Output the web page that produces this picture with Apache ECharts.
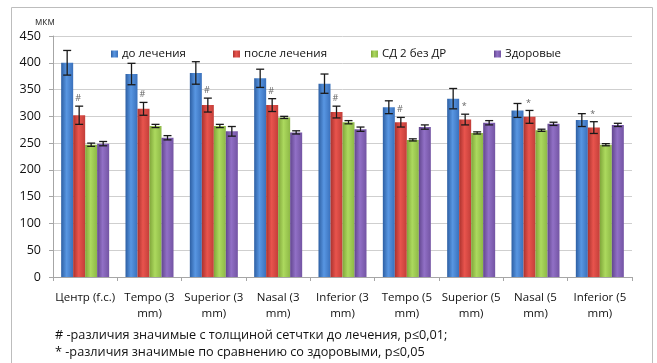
<!DOCTYPE html>
<html>
<head>
<meta charset="utf-8">
<script src="https://cdn.jsdelivr.net/npm/echarts@6/dist/echarts.min.js"></script>
<style>
  html, body { margin: 0; padding: 0; background: #fff; }
  #chart { width: 657px; height: 363px; }
</style>
</head>
<body>
<div id="chart"></div>
<script>
// Retinal thickness by zone (мкм), mean ± error
const categories = ['Центр (f.c.)', 'Tempo (3 mm)', 'Superior (3 mm)', 'Nasal (3 mm)', 'Inferior (3 mm)',
                    'Tempo (5 mm)', 'Superior (5 mm)', 'Nasal (5 mm)', 'Inferior (5 mm)'];
const seriesNames = ['до лечения', 'после лечения', 'СД 2 без ДР', 'Здоровые'];

const beforeTreatment = [400, 379, 381, 371, 361, 317, 333, 311, 293];
const beforeErr       = [23, 20, 21, 17, 18, 12, 19, 13, 12];
const afterTreatment  = [302, 314, 321, 321, 308, 289, 294, 299, 279];
const afterErr        = [17, 12, 13, 12, 11, 9, 10, 12, 11];
const diabetesNoDR    = [247, 282, 282, 298, 289, 256, 269, 274, 247];
const diabetesErr     = [3, 3, 3, 2, 3, 2, 2, 2, 2];
const healthy         = [249, 260, 272, 270, 276, 280, 288, 286, 284];
const healthyErr      = [4, 4, 9, 3, 4, 4, 4, 3, 3];

// significance marks over the "после лечения" bars
const afterMarks = ['#', '#', '#', '#', '#', '#', '*', '*', '*'];

const yTicks = [0, 50, 100, 150, 200, 250, 300, 350, 400, 450];

const footnotes = [
  '# -различия значимые с толщиной сетчтки до лечения, p≤0,01;',
  '* -различия значимые по сравнению со здоровыми, p≤0,05'
];

const values = [beforeTreatment, afterTreatment, diabetesNoDR, healthy];
const errors = [beforeErr, afterErr, diabetesErr, healthyErr];
const baseColors = [
  ['#2d5fa3', '#5896e2', '#3a71bc'],
  ['#ab322e', '#e8544d', '#c33e39'],
  ['#80a63a', '#acd95e', '#8db846'],
  ['#62468e', '#9170c6', '#7354a3']
];

const FONT = 'Open Sans';
const BAR_W = 12;

function barGradient(c) {
  return new echarts.graphic.LinearGradient(0, 0, 1, 0, [
    { offset: 0, color: c[0] },
    { offset: 0.45, color: c[1] },
    { offset: 1, color: c[2] }
  ]);
}

const chart = echarts.init(document.getElementById('chart'), null, { renderer: 'canvas' });

const barSeries = seriesNames.map((name, s) => ({
  name: name,
  type: 'bar',
  data: values[s],
  barWidth: BAR_W,
  barGap: '0%',
  itemStyle: { color: barGradient(baseColors[s]) },
  z: 2
}));

const errorSeries = seriesNames.map((name, s) => ({
  type: 'custom',
  name: name + ' err',
  data: values[s].map((v, i) => [i, v, errors[s][i]]),
  z: 5,
  silent: true,
  renderItem: function (params, api) {
    const i = api.value(0);
    const v = api.value(1);
    const e = api.value(2);
    const dx = (s - 1.5) * BAR_W;
    const top = api.coord([i, v + e]);
    const bot = api.coord([i, v - e]);
    const x = top[0] + dx;
    const cap = 4;
    const st = { stroke: '#1a1a1a', lineWidth: 1.3 };
    const children = [
      { type: 'line', shape: { x1: x, y1: top[1], x2: x, y2: bot[1] }, style: st },
      { type: 'line', shape: { x1: x - cap, y1: top[1], x2: x + cap, y2: top[1] }, style: st },
      { type: 'line', shape: { x1: x - cap, y1: bot[1], x2: x + cap, y2: bot[1] }, style: st }
    ];
    if (s === 1) {
      children.push({
        type: 'text',
        style: {
          x: x - 1, y: top[1] - 3,
          text: afterMarks[i],
          fill: '#666',
          font: '9px ' + FONT,
          align: 'center',
          verticalAlign: 'bottom'
        }
      });
    }
    return { type: 'group', children: children };
  }
}));

const legendLefts = [106, 228, 366, 489];

chart.setOption({
  animation: false,
  textStyle: { fontFamily: FONT },
  grid: { left: 53, right: 25, top: 36, bottom: 86, containLabel: false },
  legend: seriesNames.map((n, k) => ({
    data: [n],
    left: legendLefts[k],
    top: 43,
    icon: 'rect',
    itemWidth: 7,
    itemHeight: 7,
    itemGap: 4,
    textStyle: { fontFamily: FONT, fontSize: 11.5, color: '#111', padding: [0, 0, 0, -1] }
  })),
  xAxis: {
    type: 'category',
    data: categories,
    axisLine: { lineStyle: { color: '#a6a6a6' } },
    axisTick: { show: true, length: 4, lineStyle: { color: '#a6a6a6' } },
    axisLabel: {
      interval: 0,
      margin: 13,
      fontSize: 11.5,
      lineHeight: 16,
      color: '#111',
      formatter: v => v.replace(' mm)', '\nmm)')
    }
  },
  yAxis: {
    type: 'value',
    min: yTicks[0],
    max: yTicks[yTicks.length - 1],
    interval: yTicks[1] - yTicks[0],
    axisLine: { show: true, lineStyle: { color: '#a6a6a6' } },
    axisTick: { show: true, length: 4, lineStyle: { color: '#a6a6a6' } },
    axisLabel: { margin: 12, fontSize: 12.5, color: '#111' },
    splitLine: { lineStyle: { color: '#cfcfcf' } }
  },
  graphic: [
    {
      type: 'rect',
      shape: { x: 11.5, y: 7.5, width: 641, height: 380 },
      style: { fill: 'none', stroke: '#bdbdbd', lineWidth: 1 },
      silent: true, z: -1
    },
    {
      type: 'text', left: 35, top: 17,
      style: { text: 'мкм', font: '10px ' + FONT, fill: '#333' }
    },
    {
      type: 'text', left: 55, top: 329,
      style: { text: footnotes[0], font: '12.7px ' + FONT, fill: '#111' }
    },
    {
      type: 'text', left: 55, top: 346,
      style: { text: footnotes[1], font: '12.7px ' + FONT, fill: '#111' }
    }
  ],
  series: barSeries.concat(errorSeries)
});
</script>
</body>
</html>
